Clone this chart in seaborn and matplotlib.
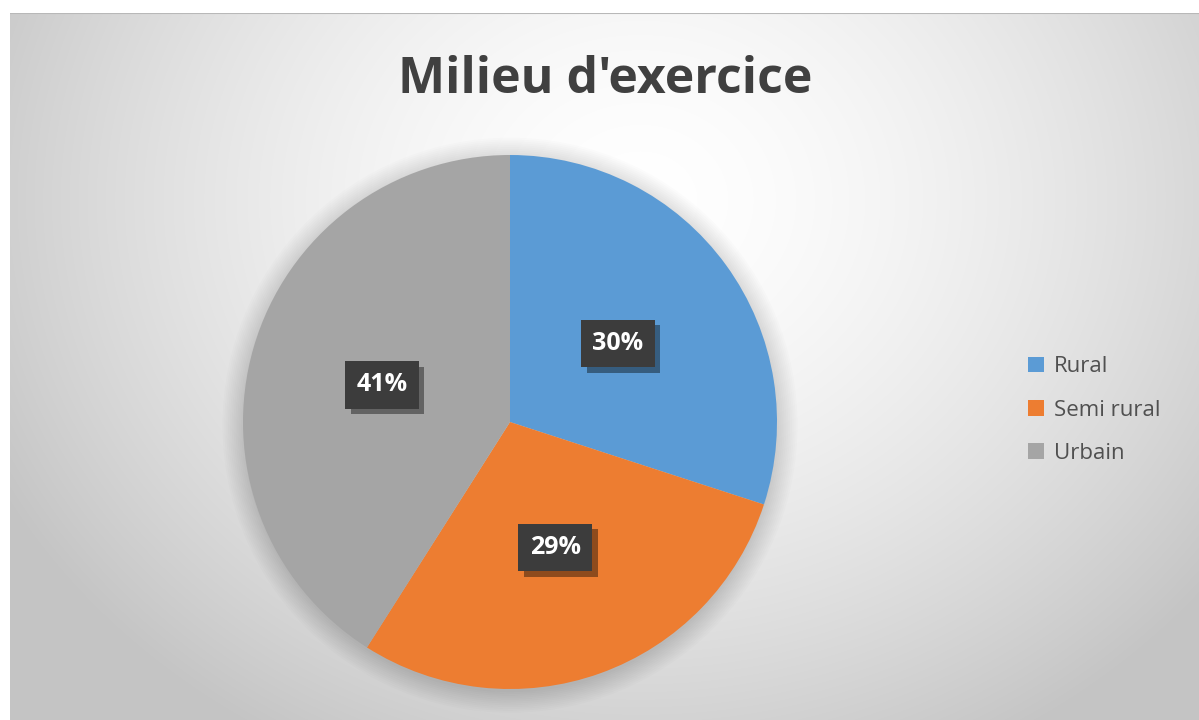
import numpy as np
import matplotlib
matplotlib.use("Agg")
import matplotlib.pyplot as plt
import matplotlib.patheffects as pe
from matplotlib.patches import Circle
import seaborn as sns

categories = ["Rural", "Semi rural", "Urbain"]
shares = [30, 29, 41]
colors = ["#5B9BD5", "#ED7D31", "#A5A5A5"]
title = "Milieu d'exercice"

sns.set_theme(style="white")
plt.rcParams["font.family"] = ["Open Sans", "DejaVu Sans"]

W, H = 1199, 720
fig = plt.figure(figsize=(W / 100, H / 100), dpi=100)
fig.patch.set_facecolor("white")

# radial gradient background of the chart area (white border top/left)
bg = fig.add_axes([10 / W, 0, (W - 10) / W, (H - 13) / H])
yy, xx = np.mgrid[13:H, 10:W]
r = np.sqrt(((xx - 640) / 720.0) ** 2 + ((yy - 200) / 620.0) ** 2)
val = 255 - 58 * np.clip(r, 0, 1.15) ** 1.6
val = np.clip(val, 196, 255) / 255.0
bg.imshow(np.dstack([val, val, val]), aspect="auto", extent=[0, 1, 0, 1])
bg.axhline(1, color="#b8b8b8", lw=1.5)
bg.set_axis_off()

# pie
cx, cy, rad = 510, 422, 267
ax = fig.add_axes([(cx - rad) / W, (H - cy - rad) / H, 2 * rad / W, 2 * rad / H])
ax.set_facecolor("none")

# soft shadow under the pie
for i in range(12):
    ax.add_patch(Circle((0.0, -0.012), 1.0 + 0.007 * i, color="black",
                        alpha=0.011, lw=0, zorder=0, clip_on=False))

wedges, texts, autotexts = ax.pie(
    shares, colors=colors, startangle=90, counterclock=False,
    autopct="%1.0f%%", pctdistance=0.5,
    wedgeprops=dict(linewidth=0, zorder=2),
    textprops=dict(color="white", fontsize=18, fontweight="bold"),
)
for t in autotexts:
    t.set_zorder(6)
    t.set_bbox(dict(boxstyle="square,pad=0.45", facecolor="#3c3c3c", edgecolor="none"))
    t.get_bbox_patch().set_path_effects(
        [pe.SimplePatchShadow(offset=(4, -4), shadow_rgbFace="black", alpha=0.4), pe.Normal()])
ax.set_xlim(-1, 1)
ax.set_ylim(-1, 1)
ax.set_aspect("equal")
ax.set_axis_off()

fig.text(605 / W, 1 - 80 / H, title, ha="center", va="center",
         fontsize=36, fontweight="bold", color="#404040")

leg = fig.legend(wedges, categories, loc="center left", bbox_to_anchor=(1008 / W, 1 - 410 / H),
                 frameon=False, fontsize=16, handlelength=0.7, handleheight=0.7,
                 handletextpad=0.45, labelspacing=1.0)
for t in leg.get_texts():
    t.set_color("#505050")

fig.savefig("out.png", dpi=100)
